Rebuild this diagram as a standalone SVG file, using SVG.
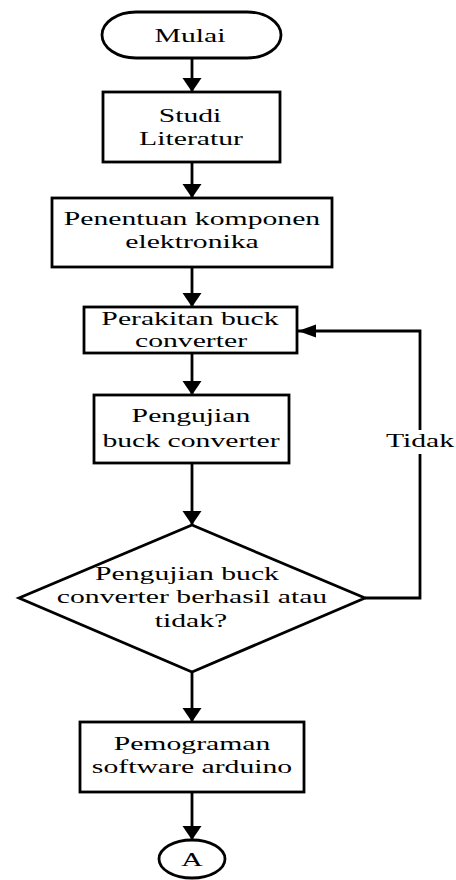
<svg xmlns="http://www.w3.org/2000/svg" width="456" height="880" viewBox="0 0 456 880">
  <style>
    .shape { fill: #ffffff; stroke: #000000; stroke-width: 2.8; }
    .wire { fill: none; stroke: #000000; stroke-width: 2.8; }
    .label { font-family: "Liberation Serif", "Times New Roman", serif; font-size: 18px; fill: #000000; text-anchor: middle; }
  </style>
  <defs>
    <!-- arrowheads: flowchart is drawn wide, so vertical and horizontal heads differ -->
    <marker id="head-v" markerUnits="userSpaceOnUse" markerWidth="15" markerHeight="20" refX="14" refY="9.5" orient="auto" viewBox="0 0 15 20">
      <path d="M0,0 L14,9.5 L0,19 Z" fill="#000000"/>
    </marker>
    <marker id="head-h" markerUnits="userSpaceOnUse" markerWidth="20" markerHeight="14" refX="18" refY="6.5" orient="auto" viewBox="0 0 20 14">
      <path d="M0,0 L18,6.5 L0,13 Z" fill="#000000"/>
    </marker>
  </defs>

  <g id="connectors">
    <line class="wire" x1="192" y1="58" x2="192" y2="92" marker-end="url(#head-v)"/>
    <line class="wire" x1="192" y1="162" x2="192" y2="198" marker-end="url(#head-v)"/>
    <line class="wire" x1="192" y1="267" x2="192" y2="307" marker-end="url(#head-v)"/>
    <line class="wire" x1="192" y1="353" x2="192" y2="395" marker-end="url(#head-v)"/>
    <line class="wire" x1="192" y1="463" x2="192" y2="525" marker-end="url(#head-v)"/>
    <line class="wire" x1="192" y1="672" x2="192" y2="722" marker-end="url(#head-v)"/>
    <line class="wire" x1="192" y1="792" x2="192" y2="840" marker-end="url(#head-v)"/>
    <polyline class="wire" points="365,598 420,598 420,331 298,331" marker-end="url(#head-h)"/>
    <g id="label-tidak">
      <rect x="384" y="430" width="72" height="24" fill="#ffffff"/>
      <text class="label" transform="translate(420 0) scale(1.65 1)" x="0" y="447">Tidak</text>
    </g>
  </g>

  <g id="start">
    <rect class="shape" x="102" y="12" width="179" height="46" rx="34" ry="23"/>
    <text class="label" transform="translate(190 0) scale(1.65 1)" x="0" y="42">Mulai</text>
  </g>

  <g id="study">
    <rect class="shape" x="103" y="92" width="177" height="70"/>
    <text class="label" transform="translate(190 0) scale(1.65 1)" x="0" y="122">Studi</text>
    <text class="label" transform="translate(191 0) scale(1.65 1)" x="0" y="145">Literatur</text>
  </g>

  <g id="components">
    <rect class="shape" x="52" y="198" width="280" height="69"/>
    <text class="label" transform="translate(192 0) scale(1.65 1)" x="0" y="225">Penentuan komponen</text>
    <text class="label" transform="translate(192 0) scale(1.65 1)" x="0" y="248">elektronika</text>
  </g>

  <g id="assembly">
    <rect class="shape" x="84" y="307" width="213" height="46"/>
    <text class="label" transform="translate(190 0) scale(1.65 1)" x="0" y="325">Perakitan buck</text>
    <text class="label" transform="translate(191 0) scale(1.65 1)" x="0" y="347">converter</text>
  </g>

  <g id="testing">
    <rect class="shape" x="94" y="395" width="195" height="68"/>
    <text class="label" transform="translate(191 0) scale(1.65 1)" x="0" y="422">Pengujian</text>
    <text class="label" transform="translate(191 0) scale(1.65 1)" x="0" y="447">buck converter</text>
  </g>

  <g id="decision">
    <polygon class="shape" points="192,525 365,598 192,672 19,598"/>
    <text class="label" transform="translate(187 0) scale(1.65 1)" x="0" y="580">Pengujian buck</text>
    <text class="label" transform="translate(192 0) scale(1.65 1)" x="0" y="603">converter berhasil atau</text>
    <text class="label" transform="translate(191 0) scale(1.65 1)" x="0" y="627">tidak?</text>
  </g>

  <g id="programming">
    <rect class="shape" x="80" y="722" width="224" height="70"/>
    <text class="label" transform="translate(192 0) scale(1.65 1)" x="0" y="750">Pemograman</text>
    <text class="label" transform="translate(192 0) scale(1.65 1)" x="0" y="773">software arduino</text>
  </g>

  <g id="connector-a">
    <ellipse class="shape" cx="192" cy="859" rx="33" ry="19"/>
    <text class="label" transform="translate(192 0) scale(1.65 1)" x="0" y="866">A</text>
  </g>
</svg>
